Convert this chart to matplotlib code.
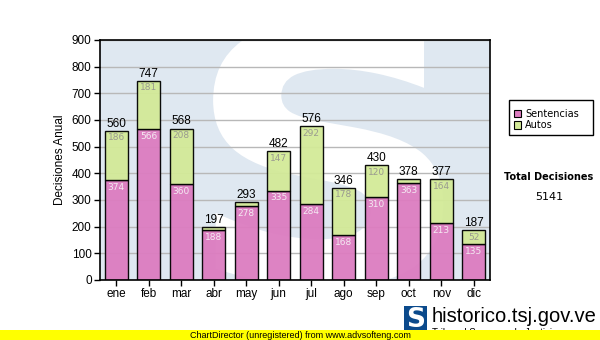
import matplotlib
matplotlib.use("Agg")
import matplotlib.pyplot as plt
from matplotlib.patches import Rectangle, PathPatch
from matplotlib.textpath import TextPath
from matplotlib.font_manager import FontProperties
from matplotlib.transforms import Affine2D
import numpy as np

meses = ["ene", "feb", "mar", "abr", "may", "jun", "jul", "ago", "sep", "oct", "nov", "dic"]
sentencias = [374, 566, 360, 188, 278, 335, 284, 168, 310, 363, 213, 135]
autos = [186, 181, 208, 9, 15, 147, 292, 178, 120, 15, 164, 52]

plt.rcParams['font.family'] = ['DejaVu Sans']

fig = plt.figure(figsize=(6, 3.4), dpi=100)
ax = fig.add_axes([100/600, 60/340, 390/600, 240/340])
ax.set_facecolor('#dfe8f1')

x = np.arange(len(meses))
totales = [s + a for s, a in zip(sentencias, autos)]

# big white "S" watermark, stretched to fill the plot area (axes coords)
tp = TextPath((0, 0), "S", size=1, prop=FontProperties(family='DejaVu Sans', weight='bold'))
ext = tp.get_extents()
x0, x1, y0, y1 = 0.29, 0.88, -0.03, 1.08
tr = (Affine2D().translate(-ext.x0, -ext.y0)
      .scale((x1 - x0) / ext.width, (y1 - y0) / ext.height)
      .translate(x0, y0))
wm = PathPatch(tr.transform_path(tp), facecolor='white', edgecolor='none',
               transform=ax.transAxes, zorder=0.5)
ax.add_patch(wm)
wm.set_clip_path(ax.patch)

ax.set_axisbelow(True)
ax.grid(axis='y', color='#b8b8b8', linewidth=1)

w = 0.71
ax.bar(x, sentencias, w, color='#dc7cc0', edgecolor='black', linewidth=1, zorder=2, alpha=0.95)
ax.bar(x, autos, w, bottom=sentencias, color='#d3ea98', edgecolor='black', linewidth=1, zorder=2, alpha=0.95)

for i in range(len(meses)):
    ax.text(x[i], totales[i] + 4, str(totales[i]), ha='center', va='bottom',
            fontsize=8.5, family='Liberation Sans', color='black', zorder=4)
    if sentencias[i] > 40:
        ax.text(x[i], sentencias[i] - 10, str(sentencias[i]), ha='center', va='top',
                fontsize=6.5, color='#f4eaf2', zorder=4)
    if autos[i] > 40:
        ax.text(x[i], totales[i] - 10, str(autos[i]), ha='center', va='top',
                fontsize=6.5, color='#9a9a90', zorder=4)

ax.set_xlim(-0.5, 11.5)
ax.set_ylim(0, 900)
ax.set_yticks(range(0, 901, 100))
ax.set_xticks(x)
ax.set_xticklabels(meses, family='Liberation Sans', fontsize=8.5)
ax.tick_params(axis='y', labelsize=8.5, length=4, width=1, pad=2)
ax.tick_params(axis='x', length=4, width=1, pad=2)
for lbl in ax.get_yticklabels():
    lbl.set_family('Liberation Sans')
for sp in ax.spines.values():
    sp.set_linewidth(1.2)
ax.set_ylabel("Decisiones Anual", family='Liberation Sans', fontsize=8.5, labelpad=4)

# legend box
fig.patches.append(Rectangle((509/600, 1 - 135/340), 84/600, 35/340, transform=fig.transFigure,
                             facecolor='white', edgecolor='black', linewidth=1))
for k, (nombre, col) in enumerate([("Sentencias", '#dc7cc0'), ("Autos", '#d3ea98')]):
    yy = 1 - (114 + k * 11) / 340
    fig.patches.append(Rectangle((514/600, yy - 3.5/340), 7/600, 7/340, transform=fig.transFigure,
                                 facecolor=col, edgecolor='black', linewidth=0.8))
    fig.text(525/600, yy, nombre, fontsize=7, va='center', ha='left')

fig.text(549/600, 1 - 177/340, "Total Decisiones", fontsize=7, fontweight='bold',
         ha='center', va='center')
fig.text(549/600, 1 - 197/340, str(sum(totales)), fontsize=8, ha='center', va='center')

# site logo and name
fig.patches.append(Rectangle((404/600, 1 - 335/340), 23/600, 29/340, transform=fig.transFigure,
                             facecolor='#0b4a8c', edgecolor='none'))
fig.text(415.5/600, 1 - 320/340, "S", color='white', fontsize=19, fontweight='bold',
         family='DejaVu Sans', ha='center', va='center')
fig.text(432/600, 1 - 317/340, "historico.tsj.gov.ve", fontsize=14.5,
         family='Liberation Sans', ha='left', va='center')
fig.text(432/600, 1 - 333/340, "Tribunal Supremo de Justicia", fontsize=7,
         family='Liberation Sans', ha='left', va='center')

# yellow footer strip
fig.patches.append(Rectangle((0, 0), 1, 10/340, transform=fig.transFigure,
                             facecolor='#ffff00', edgecolor='none', zorder=5))
fig.text(300/600, 5/340, "ChartDirector (unregistered) from www.advsofteng.com", fontsize=6.5,
         family='Liberation Sans', ha='center', va='center', zorder=6)

fig.savefig("out.png", dpi=100)
